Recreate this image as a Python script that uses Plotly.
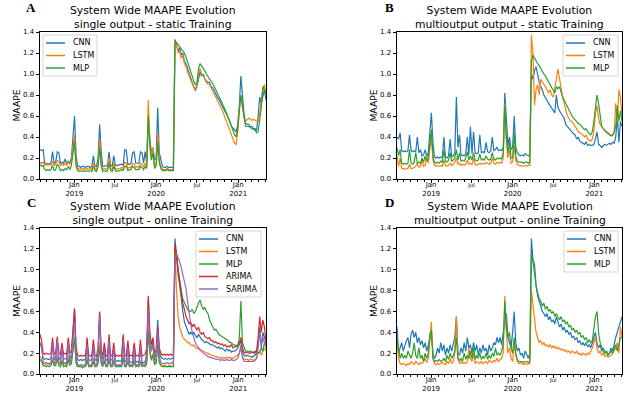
import pandas as pd
import plotly.graph_objects as go

# weekly samples, Aug 2018 .. May 2021
dates = pd.date_range("2018-08-01", periods=145, freq="7D")

cnn_a = [0.28, 0.27, 0.28, 0.15, 0.15, 0.14, 0.15, 0.15, 0.26, 0.15,
         0.16, 0.26, 0.25, 0.15, 0.16, 0.15, 0.19, 0.15, 0.17, 0.15,
         0.20, 0.45, 0.60, 0.22, 0.12, 0.12, 0.11, 0.12, 0.12, 0.11,
         0.12, 0.12, 0.11, 0.12, 0.22, 0.12, 0.12, 0.20, 0.52, 0.26,
         0.12, 0.12, 0.13, 0.12, 0.26, 0.13, 0.12, 0.22, 0.13, 0.13,
         0.13, 0.14, 0.14, 0.13, 0.28, 0.27, 0.14, 0.14, 0.15, 0.25,
         0.26, 0.15, 0.15, 0.15, 0.26, 0.25, 0.15, 0.26, 0.15, 0.60,
         0.38, 0.25, 0.30, 0.18, 0.20, 0.68, 0.25, 0.18, 0.12, 0.11,
         0.11, 0.12, 0.11, 0.11, 0.11, 0.11, 1.33, 1.27, 1.22, 1.25,
         1.18, 1.20, 1.12, 1.10, 1.05, 1.00, 0.97, 0.92, 0.88, 0.84,
         0.88, 0.97, 1.02, 0.98, 1.00, 0.95, 0.93, 0.92, 0.92, 0.88,
         0.87, 0.84, 0.80, 0.78, 0.76, 0.73, 0.70, 0.67, 0.63, 0.60,
         0.58, 0.55, 0.50, 0.48, 0.46, 0.45, 0.52, 0.70, 0.98, 0.75,
         0.62, 0.53, 0.52, 0.52, 0.50, 0.50, 0.48, 0.48, 0.46, 0.60,
         0.78, 0.72, 0.80, 0.85, 0.75]
lstm_a = [0.16, 0.15, 0.16, 0.13, 0.14, 0.13, 0.14, 0.13, 0.17, 0.13,
          0.14, 0.18, 0.16, 0.13, 0.14, 0.13, 0.15, 0.13, 0.16, 0.14,
          0.17, 0.30, 0.42, 0.15, 0.10, 0.09, 0.10, 0.09, 0.10, 0.09,
          0.10, 0.09, 0.10, 0.09, 0.15, 0.10, 0.09, 0.14, 0.38, 0.15,
          0.09, 0.10, 0.09, 0.10, 0.20, 0.10, 0.09, 0.15, 0.10, 0.09,
          0.10, 0.10, 0.11, 0.10, 0.16, 0.15, 0.10, 0.11, 0.11, 0.15,
          0.14, 0.11, 0.12, 0.11, 0.15, 0.14, 0.12, 0.15, 0.12, 0.75,
          0.35, 0.22, 0.30, 0.12, 0.15, 0.45, 0.18, 0.12, 0.09, 0.09,
          0.09, 0.10, 0.09, 0.09, 0.09, 0.09, 1.30, 1.28, 1.20, 1.22,
          1.15, 1.17, 1.10, 1.07, 1.02, 0.98, 0.94, 0.90, 0.87, 0.85,
          0.90, 1.00, 1.05, 1.00, 0.98, 0.96, 0.92, 0.90, 0.90, 0.87,
          0.85, 0.82, 0.78, 0.75, 0.72, 0.70, 0.66, 0.62, 0.58, 0.54,
          0.50, 0.45, 0.40, 0.36, 0.34, 0.33, 0.45, 0.65, 0.80, 0.68,
          0.58, 0.55, 0.57, 0.58, 0.57, 0.56, 0.57, 0.56, 0.55, 0.55,
          0.62, 0.75, 0.85, 0.90, 0.82]
mlp_a = [0.14, 0.12, 0.13, 0.09, 0.08, 0.09, 0.08, 0.09, 0.13, 0.08,
         0.09, 0.14, 0.12, 0.08, 0.09, 0.08, 0.10, 0.09, 0.12, 0.09,
         0.13, 0.25, 0.35, 0.12, 0.08, 0.07, 0.08, 0.07, 0.08, 0.07,
         0.08, 0.07, 0.08, 0.07, 0.12, 0.08, 0.07, 0.12, 0.30, 0.12,
         0.07, 0.08, 0.07, 0.08, 0.15, 0.08, 0.07, 0.12, 0.08, 0.07,
         0.08, 0.08, 0.09, 0.08, 0.12, 0.12, 0.08, 0.09, 0.09, 0.12,
         0.11, 0.09, 0.09, 0.09, 0.12, 0.11, 0.09, 0.12, 0.10, 0.60,
         0.30, 0.18, 0.25, 0.10, 0.12, 0.35, 0.15, 0.10, 0.08, 0.08,
         0.08, 0.09, 0.08, 0.08, 0.08, 0.08, 1.28, 1.30, 1.28, 1.26,
         1.25, 1.22, 1.20, 1.16, 1.12, 1.08, 1.03, 0.98, 0.93, 0.90,
         0.92, 1.05, 1.10, 1.08, 1.05, 1.03, 1.00, 0.98, 0.96, 0.93,
         0.91, 0.88, 0.85, 0.82, 0.79, 0.76, 0.72, 0.69, 0.66, 0.62,
         0.58, 0.53, 0.48, 0.44, 0.42, 0.40, 0.48, 0.65, 0.80, 0.70,
         0.58, 0.50, 0.50, 0.50, 0.49, 0.48, 0.47, 0.47, 0.44, 0.45,
         0.55, 0.68, 0.88, 0.85, 0.80]

cnn_b = [0.40, 0.38, 0.44, 0.27, 0.26, 0.27, 0.26, 0.27, 0.42, 0.27,
         0.26, 0.27, 0.26, 0.40, 0.25, 0.28, 0.22, 0.23, 0.28, 0.22,
         0.25, 0.45, 0.63, 0.35, 0.21, 0.20, 0.21, 0.20, 0.21, 0.20,
         0.40, 0.21, 0.20, 0.22, 0.38, 0.21, 0.22, 0.25, 0.78, 0.30,
         0.42, 0.22, 0.23, 0.22, 0.24, 0.40, 0.23, 0.50, 0.24, 0.45,
         0.25, 0.24, 0.25, 0.42, 0.25, 0.26, 0.25, 0.35, 0.26, 0.25,
         0.27, 0.40, 0.27, 0.28, 0.30, 0.27, 0.28, 0.27, 0.30, 0.82,
         0.50, 0.32, 0.40, 0.28, 0.30, 0.60, 0.30, 0.25, 0.23, 0.22,
         0.23, 0.22, 0.24, 0.23, 0.22, 0.23, 1.00, 0.95, 1.03, 1.07,
         0.98, 0.92, 0.88, 0.85, 0.80, 0.78, 0.75, 0.72, 0.70, 0.67,
         0.65, 0.63, 0.80, 0.68, 0.65, 0.62, 0.60, 0.58, 0.52, 0.50,
         0.48, 0.46, 0.45, 0.43, 0.42, 0.38, 0.40, 0.36, 0.35, 0.34,
         0.33, 0.35, 0.32, 0.33, 0.32, 0.32, 0.33, 0.38, 0.45, 0.33,
         0.32, 0.30, 0.32, 0.33, 0.32, 0.33, 0.34, 0.33, 0.35, 0.34,
         0.40, 0.60, 0.35, 0.55, 0.50]
lstm_b = [0.22, 0.12, 0.20, 0.10, 0.10, 0.09, 0.10, 0.10, 0.14, 0.10,
          0.10, 0.11, 0.12, 0.15, 0.11, 0.12, 0.18, 0.12, 0.13, 0.22,
          0.15, 0.28, 0.40, 0.18, 0.13, 0.12, 0.13, 0.12, 0.13, 0.12,
          0.18, 0.13, 0.12, 0.13, 0.15, 0.13, 0.14, 0.16, 0.20, 0.14,
          0.15, 0.13, 0.14, 0.13, 0.14, 0.18, 0.14, 0.15, 0.14, 0.20,
          0.14, 0.13, 0.14, 0.15, 0.14, 0.15, 0.14, 0.16, 0.15, 0.14,
          0.15, 0.20, 0.15, 0.14, 0.16, 0.15, 0.16, 0.15, 0.20, 0.72,
          0.35, 0.20, 0.28, 0.15, 0.16, 0.32, 0.18, 0.14, 0.13, 0.12,
          0.13, 0.12, 0.13, 0.12, 0.13, 0.13, 1.37, 1.20, 0.70, 0.85,
          0.90, 0.80, 0.95, 0.92, 0.90, 0.88, 0.85, 0.82, 0.85, 0.80,
          0.78, 0.85, 0.95, 1.05, 0.95, 0.85, 0.78, 0.72, 0.65, 0.60,
          0.58, 0.55, 0.55, 0.52, 0.50, 0.48, 0.45, 0.44, 0.43, 0.42,
          0.40, 0.42, 0.38, 0.37, 0.36, 0.38, 0.45, 0.62, 0.70, 0.58,
          0.52, 0.50, 0.48, 0.45, 0.44, 0.43, 0.42, 0.42, 0.41, 0.45,
          0.72, 0.55, 0.85, 0.78, 0.60]
mlp_b = [0.30, 0.22, 0.28, 0.15, 0.14, 0.15, 0.14, 0.15, 0.28, 0.15,
         0.14, 0.16, 0.25, 0.15, 0.16, 0.15, 0.20, 0.16, 0.22, 0.17,
         0.20, 0.35, 0.47, 0.22, 0.16, 0.15, 0.16, 0.15, 0.17, 0.16,
         0.28, 0.17, 0.16, 0.18, 0.25, 0.17, 0.18, 0.20, 0.28, 0.18,
         0.25, 0.17, 0.18, 0.17, 0.20, 0.26, 0.18, 0.22, 0.18, 0.25,
         0.18, 0.17, 0.18, 0.24, 0.18, 0.19, 0.18, 0.22, 0.19, 0.18,
         0.19, 0.25, 0.19, 0.18, 0.20, 0.19, 0.20, 0.19, 0.25, 0.70,
         0.40, 0.25, 0.35, 0.20, 0.20, 0.45, 0.22, 0.17, 0.16, 0.16,
         0.16, 0.15, 0.16, 0.16, 0.15, 0.16, 1.12, 1.18, 1.15, 1.12,
         1.10, 1.08, 1.05, 1.02, 1.00, 0.98, 0.95, 0.92, 0.90, 0.87,
         0.85, 0.82, 0.88, 0.86, 0.88, 0.82, 0.78, 0.75, 0.72, 0.68,
         0.65, 0.62, 0.60, 0.58, 0.56, 0.55, 0.53, 0.52, 0.50, 0.48,
         0.47, 0.48, 0.45, 0.43, 0.42, 0.45, 0.55, 0.68, 0.80, 0.72,
         0.58, 0.50, 0.48, 0.46, 0.45, 0.44, 0.42, 0.41, 0.42, 0.45,
         0.50, 0.70, 0.55, 0.65, 0.55]

cnn_c = [0.30, 0.25, 0.15, 0.14, 0.15, 0.14, 0.14, 0.15, 0.30, 0.14,
         0.15, 0.33, 0.15, 0.14, 0.25, 0.14, 0.15, 0.14, 0.30, 0.15,
         0.18, 0.40, 0.63, 0.20, 0.14, 0.13, 0.14, 0.13, 0.14, 0.13,
         0.30, 0.14, 0.13, 0.14, 0.28, 0.14, 0.13, 0.20, 0.58, 0.18,
         0.14, 0.25, 0.13, 0.14, 0.30, 0.13, 0.14, 0.25, 0.13, 0.12,
         0.13, 0.12, 0.13, 0.35, 0.12, 0.13, 0.28, 0.12, 0.11, 0.12,
         0.28, 0.11, 0.12, 0.11, 0.25, 0.10, 0.11, 0.12, 0.20, 0.72,
         0.35, 0.22, 0.30, 0.15, 0.20, 0.52, 0.22, 0.16, 0.15, 0.14,
         0.15, 0.14, 0.15, 0.14, 0.15, 0.15, 1.30, 1.10, 0.95, 0.85,
         0.70, 0.60, 0.50, 0.45, 0.42, 0.38, 0.40, 0.38, 0.40, 0.37,
         0.35, 0.38, 0.35, 0.33, 0.32, 0.30, 0.31, 0.30, 0.29, 0.28,
         0.28, 0.27, 0.26, 0.25, 0.26, 0.24, 0.25, 0.23, 0.22, 0.24,
         0.22, 0.23, 0.21, 0.22, 0.22, 0.23, 0.25, 0.28, 0.32, 0.22,
         0.18, 0.17, 0.18, 0.17, 0.17, 0.16, 0.17, 0.18, 0.20, 0.30,
         0.45, 0.25, 0.40, 0.35, 0.30]
lstm_c = [0.17, 0.15, 0.10, 0.10, 0.09, 0.10, 0.09, 0.10, 0.16, 0.09,
          0.10, 0.18, 0.10, 0.09, 0.14, 0.09, 0.10, 0.09, 0.17, 0.10,
          0.12, 0.25, 0.35, 0.12, 0.09, 0.08, 0.09, 0.08, 0.09, 0.08,
          0.16, 0.09, 0.08, 0.09, 0.15, 0.09, 0.08, 0.12, 0.30, 0.12,
          0.09, 0.14, 0.08, 0.09, 0.16, 0.08, 0.09, 0.14, 0.09, 0.08,
          0.09, 0.08, 0.09, 0.18, 0.08, 0.09, 0.15, 0.08, 0.09, 0.08,
          0.14, 0.08, 0.09, 0.08, 0.13, 0.08, 0.09, 0.08, 0.12, 0.45,
          0.22, 0.15, 0.20, 0.10, 0.12, 0.30, 0.12, 0.09, 0.08, 0.08,
          0.08, 0.07, 0.08, 0.08, 0.07, 0.08, 1.22, 0.80, 0.55, 0.45,
          0.40, 0.35, 0.33, 0.32, 0.30, 0.30, 0.28, 0.27, 0.28, 0.25,
          0.25, 0.24, 0.23, 0.22, 0.22, 0.21, 0.20, 0.20, 0.19, 0.18,
          0.18, 0.17, 0.17, 0.16, 0.16, 0.15, 0.16, 0.15, 0.15, 0.16,
          0.15, 0.16, 0.15, 0.15, 0.16, 0.17, 0.18, 0.20, 0.24, 0.17,
          0.14, 0.14, 0.14, 0.13, 0.14, 0.14, 0.13, 0.14, 0.15, 0.20,
          0.22, 0.18, 0.22, 0.25, 0.22]
mlp_c = [0.14, 0.12, 0.08, 0.08, 0.07, 0.08, 0.07, 0.08, 0.13, 0.08,
         0.08, 0.15, 0.08, 0.07, 0.12, 0.07, 0.08, 0.07, 0.14, 0.08,
         0.10, 0.22, 0.35, 0.10, 0.07, 0.07, 0.07, 0.06, 0.07, 0.07,
         0.13, 0.07, 0.07, 0.07, 0.12, 0.07, 0.07, 0.10, 0.25, 0.10,
         0.07, 0.12, 0.07, 0.07, 0.14, 0.07, 0.07, 0.12, 0.07, 0.07,
         0.07, 0.07, 0.07, 0.15, 0.07, 0.07, 0.12, 0.07, 0.08, 0.07,
         0.12, 0.07, 0.08, 0.07, 0.11, 0.07, 0.08, 0.07, 0.10, 0.40,
         0.20, 0.13, 0.18, 0.09, 0.10, 0.28, 0.11, 0.08, 0.07, 0.07,
         0.07, 0.07, 0.07, 0.07, 0.07, 0.07, 1.20, 1.15, 1.00, 0.88,
         0.80, 0.72, 0.68, 0.65, 0.62, 0.60, 0.60, 0.62, 0.58, 0.60,
         0.65, 0.68, 0.71, 0.65, 0.62, 0.64, 0.60, 0.58, 0.52, 0.48,
         0.45, 0.42, 0.43, 0.40, 0.38, 0.37, 0.36, 0.35, 0.34, 0.33,
         0.32, 0.30, 0.30, 0.28, 0.28, 0.27, 0.26, 0.35, 0.70, 0.30,
         0.25, 0.22, 0.22, 0.21, 0.22, 0.21, 0.21, 0.20, 0.22, 0.20,
         0.21, 0.25, 0.22, 0.30, 0.28]
arima_c = [0.38, 0.32, 0.20, 0.19, 0.20, 0.19, 0.19, 0.20, 0.35, 0.19,
           0.20, 0.36, 0.20, 0.19, 0.30, 0.19, 0.20, 0.19, 0.35, 0.20,
           0.22, 0.45, 0.62, 0.25, 0.18, 0.17, 0.18, 0.17, 0.18, 0.17,
           0.35, 0.18, 0.17, 0.18, 0.33, 0.18, 0.17, 0.25, 0.60, 0.22,
           0.18, 0.30, 0.17, 0.18, 0.38, 0.17, 0.18, 0.30, 0.17, 0.18,
           0.17, 0.18, 0.17, 0.38, 0.17, 0.18, 0.32, 0.17, 0.18, 0.17,
           0.30, 0.17, 0.18, 0.17, 0.33, 0.17, 0.18, 0.19, 0.25, 0.75,
           0.40, 0.28, 0.35, 0.20, 0.22, 0.45, 0.25, 0.20, 0.18, 0.19,
           0.18, 0.19, 0.18, 0.19, 0.18, 0.19, 1.25, 1.15, 1.00, 0.88,
           0.78, 0.68, 0.62, 0.55, 0.52, 0.48, 0.50, 0.45, 0.48, 0.44,
           0.42, 0.45, 0.40, 0.38, 0.40, 0.36, 0.35, 0.34, 0.35, 0.32,
           0.32, 0.30, 0.31, 0.29, 0.30, 0.28, 0.29, 0.27, 0.28, 0.26,
           0.27, 0.26, 0.28, 0.25, 0.26, 0.27, 0.28, 0.30, 0.35, 0.25,
           0.21, 0.20, 0.21, 0.20, 0.20, 0.21, 0.20, 0.22, 0.22, 0.35,
           0.55, 0.40, 0.52, 0.45, 0.30]
sarima_c = [0.30, 0.28, 0.11, 0.10, 0.11, 0.10, 0.10, 0.11, 0.30, 0.10,
            0.11, 0.32, 0.11, 0.10, 0.25, 0.10, 0.11, 0.10, 0.30, 0.11,
            0.15, 0.35, 0.50, 0.18, 0.09, 0.08, 0.09, 0.08, 0.09, 0.08,
            0.28, 0.09, 0.08, 0.09, 0.27, 0.09, 0.08, 0.18, 0.55, 0.15,
            0.09, 0.22, 0.08, 0.09, 0.33, 0.08, 0.09, 0.25, 0.08, 0.09,
            0.08, 0.09, 0.08, 0.32, 0.08, 0.09, 0.26, 0.08, 0.09, 0.08,
            0.25, 0.08, 0.09, 0.08, 0.27, 0.08, 0.09, 0.10, 0.18, 0.62,
            0.30, 0.22, 0.28, 0.12, 0.15, 0.40, 0.18, 0.11, 0.10, 0.10,
            0.10, 0.11, 0.10, 0.10, 0.11, 0.10, 1.10, 1.15, 1.12, 1.08,
            1.02, 0.95, 0.90, 0.82, 0.70, 0.58, 0.48, 0.40, 0.34, 0.30,
            0.27, 0.25, 0.24, 0.22, 0.20, 0.19, 0.18, 0.17, 0.16, 0.16,
            0.15, 0.15, 0.14, 0.14, 0.14, 0.13, 0.14, 0.13, 0.13, 0.14,
            0.13, 0.13, 0.14, 0.13, 0.13, 0.14, 0.15, 0.20, 0.28, 0.16,
            0.12, 0.12, 0.12, 0.12, 0.12, 0.12, 0.12, 0.13, 0.15, 0.25,
            0.40, 0.28, 0.35, 0.30, 0.25]

cnn_d = [0.45, 0.20, 0.25, 0.30, 0.22, 0.28, 0.32, 0.35, 0.25, 0.38,
         0.42, 0.35, 0.40, 0.30, 0.35, 0.28, 0.32, 0.25, 0.30, 0.22,
         0.28, 0.35, 0.40, 0.20, 0.15, 0.18, 0.25, 0.20, 0.30, 0.22,
         0.28, 0.18, 0.25, 0.20, 0.28, 0.22, 0.30, 0.35, 0.55, 0.20,
         0.18, 0.25, 0.20, 0.30, 0.22, 0.35, 0.25, 0.28, 0.20, 0.30,
         0.22, 0.28, 0.18, 0.25, 0.20, 0.28, 0.22, 0.25, 0.18, 0.28,
         0.22, 0.25, 0.30, 0.28, 0.35, 0.30, 0.35, 0.28, 0.40, 0.50,
         0.58, 0.35, 0.30, 0.25, 0.40, 0.60, 0.30, 0.22, 0.25, 0.18,
         0.20, 0.15, 0.22, 0.18, 0.15, 0.20, 1.30, 1.10, 1.05, 0.85,
         0.75, 0.70, 0.65, 0.60, 0.58, 0.55, 0.58, 0.52, 0.55, 0.50,
         0.52, 0.48, 0.55, 0.50, 0.45, 0.48, 0.42, 0.45, 0.40, 0.42,
         0.38, 0.40, 0.35, 0.36, 0.33, 0.35, 0.30, 0.32, 0.28, 0.30,
         0.27, 0.30, 0.26, 0.28, 0.25, 0.30, 0.35, 0.40, 0.30, 0.25,
         0.28, 0.22, 0.25, 0.20, 0.22, 0.18, 0.20, 0.25, 0.22, 0.30,
         0.35, 0.40, 0.45, 0.50, 0.55]
lstm_d = [0.30, 0.15, 0.10, 0.09, 0.10, 0.09, 0.08, 0.10, 0.09, 0.12,
          0.10, 0.09, 0.12, 0.10, 0.09, 0.11, 0.10, 0.12, 0.15, 0.11,
          0.15, 0.30, 0.50, 0.15, 0.10, 0.09, 0.10, 0.09, 0.10, 0.11,
          0.10, 0.09, 0.12, 0.10, 0.15, 0.10, 0.12, 0.20, 0.55, 0.15,
          0.10, 0.12, 0.10, 0.11, 0.10, 0.12, 0.25, 0.15, 0.12, 0.20,
          0.10, 0.12, 0.11, 0.10, 0.12, 0.10, 0.11, 0.12, 0.10, 0.13,
          0.12, 0.11, 0.13, 0.12, 0.15, 0.12, 0.14, 0.15, 0.20, 0.75,
          0.40, 0.20, 0.25, 0.15, 0.12, 0.30, 0.18, 0.12, 0.10, 0.11,
          0.10, 0.09, 0.10, 0.09, 0.10, 0.10, 0.80, 0.65, 0.50, 0.40,
          0.35, 0.30, 0.32, 0.28, 0.30, 0.27, 0.28, 0.26, 0.28, 0.25,
          0.27, 0.25, 0.26, 0.24, 0.25, 0.23, 0.24, 0.22, 0.23, 0.21,
          0.22, 0.20, 0.22, 0.21, 0.20, 0.22, 0.19, 0.20, 0.18, 0.20,
          0.19, 0.18, 0.20, 0.19, 0.22, 0.25, 0.30, 0.35, 0.25, 0.20,
          0.22, 0.18, 0.20, 0.17, 0.18, 0.16, 0.17, 0.18, 0.20, 0.22,
          0.25, 0.30, 0.20, 0.45, 0.35]
mlp_d = [0.35, 0.25, 0.15, 0.20, 0.15, 0.18, 0.15, 0.22, 0.18, 0.15,
         0.20, 0.30, 0.18, 0.15, 0.25, 0.15, 0.18, 0.12, 0.20, 0.15,
         0.20, 0.38, 0.42, 0.15, 0.12, 0.13, 0.12, 0.14, 0.12, 0.13,
         0.15, 0.12, 0.18, 0.14, 0.20, 0.15, 0.18, 0.22, 0.35, 0.15,
         0.13, 0.15, 0.12, 0.20, 0.14, 0.18, 0.15, 0.22, 0.15, 0.25,
         0.14, 0.18, 0.15, 0.20, 0.14, 0.17, 0.15, 0.20, 0.14, 0.18,
         0.15, 0.20, 0.17, 0.25, 0.18, 0.20, 0.18, 0.22, 0.30, 0.70,
         0.45, 0.35, 0.40, 0.25, 0.20, 0.35, 0.20, 0.14, 0.12, 0.12,
         0.12, 0.11, 0.12, 0.12, 0.11, 0.12, 1.15, 1.08, 0.95, 0.85,
         0.78, 0.72, 0.70, 0.65, 0.68, 0.62, 0.65, 0.60, 0.62, 0.58,
         0.60, 0.55, 0.58, 0.55, 0.52, 0.55, 0.50, 0.52, 0.48, 0.50,
         0.45, 0.47, 0.42, 0.44, 0.40, 0.42, 0.38, 0.40, 0.35, 0.37,
         0.33, 0.35, 0.30, 0.33, 0.30, 0.32, 0.45, 0.55, 0.60, 0.40,
         0.30, 0.25, 0.22, 0.20, 0.22, 0.18, 0.20, 0.22, 0.20, 0.25,
         0.28, 0.22, 0.30, 0.35, 0.35]

colors = {"CNN": "#1f77b4", "LSTM": "#ff7f0e", "MLP": "#2ca02c",
          "ARIMA": "#d62728", "SARIMA": "#9467bd"}

panels = [
    ("A", "single output - static Training",
     {"CNN": cnn_a, "LSTM": lstm_a, "MLP": mlp_a}),
    ("B", "multioutput output - static Training",
     {"CNN": cnn_b, "LSTM": lstm_b, "MLP": mlp_b}),
    ("C", "single output - online Training",
     {"CNN": cnn_c, "LSTM": lstm_c, "MLP": mlp_c, "ARIMA": arima_c, "SARIMA": sarima_c}),
    ("D", "multioutput output - online Training",
     {"CNN": cnn_d, "LSTM": lstm_d, "MLP": mlp_d}),
]

W, H = 640, 410


def px(x, y):
    return x / W, 1 - y / H


x_doms = [[px(40, 0)[0], px(266, 0)[0]], [px(397, 0)[0], px(622, 0)[0]]]
y_doms = [[px(0, 179)[1], px(0, 32)[1]], [px(0, 374)[1], px(0, 228)[1]]]
letter_pos = [(31, 7), (389, 7), (31, 202), (389, 202)]

# legend frames (left, top, width) in pixels, matplotlib-like compact legends
legend_frames = [(43, 35, 54), (563, 35, 55), (196, 231, 65), (564, 231, 54)]
ROW = 12.5

jan_jul = ["2019-01-01", "2019-07-01", "2020-01-01", "2020-07-01", "2021-01-01"]
jul = "<span style='font-size:5.5px'>Jul</span>"
jan_jul_text = ["Jan<br>2019", jul, "Jan<br>2020", jul, "Jan<br>2021"]

FONT = "DejaVu Sans"
fig = go.Figure()
layout = dict(width=W, height=H, margin=dict(l=0, r=0, t=0, b=0, autoexpand=False),
              paper_bgcolor="white", plot_bgcolor="white", showlegend=False,
              font=dict(family=FONT, size=7, color="black"),
              annotations=[], shapes=[])

for k, (letter, subtitle, series) in enumerate(panels):
    row, col = divmod(k, 2)
    sfx = "" if k == 0 else str(k + 1)
    for name, vals in series.items():
        fig.add_trace(go.Scatter(
            x=dates, y=vals, mode="lines", name=name,
            line=dict(color=colors[name], width=1.2),
            xaxis="x" + sfx, yaxis="y" + sfx))

    layout["xaxis" + sfx] = dict(
        domain=x_doms[col], anchor="y" + sfx, type="date", automargin=False,
        range=[dates[0], dates[-1]],
        tickvals=jan_jul, ticktext=jan_jul_text, ticklabelstandoff=-5,
        ticks="outside", ticklen=3.5, tickwidth=0.8, tickcolor="black",
        showline=True, linecolor="black", linewidth=0.8, mirror=True,
        showgrid=False, zeroline=False, tickfont=dict(size=7),
        minor=dict(dtick="M1", ticks="outside", ticklen=2, tickwidth=0.6,
                   tickcolor="black", showgrid=False))
    layout["yaxis" + sfx] = dict(
        domain=y_doms[row], anchor="x" + sfx, range=[0, 1.4], automargin=False,
        tickvals=[0, 0.2, 0.4, 0.6, 0.8, 1.0, 1.2, 1.4], tickformat=".1f",
        ticks="outside", ticklen=3.5, tickwidth=0.8, tickcolor="black",
        showline=True, linecolor="black", linewidth=0.8, mirror=True,
        showgrid=False, zeroline=False, tickfont=dict(size=7),
        title=dict(text="MAAPE", font=dict(size=9.2), standoff=0))

    # compact legend box
    left, top, width = legend_frames[k]
    n = len(series)
    x0, y0 = px(left, top)
    x1, y1 = px(left + width, top + 16 + ROW * (n - 1))
    layout["shapes"].append(dict(
        type="rect", xref="paper", yref="paper", x0=x0, y0=y1, x1=x1, y1=y0,
        line=dict(color="#cccccc", width=0.8), fillcolor="rgba(255,255,255,0.8)"))
    for j, name in enumerate(series):
        yc = top + 8 + ROW * j
        lx0, ly = px(left + 3, yc)
        lx1, _ = px(left + 22, yc)
        layout["shapes"].append(dict(
            type="line", xref="paper", yref="paper", x0=lx0, x1=lx1, y0=ly, y1=ly,
            line=dict(color=colors[name], width=1.5)))
        tx, _ = px(left + 28, yc)
        layout["annotations"].append(dict(
            text=name, x=tx, y=ly, xref="paper", yref="paper",
            xanchor="left", yanchor="middle", showarrow=False,
            font=dict(size=8, family=FONT)))

    layout["annotations"].append(dict(
        text="System Wide MAAPE Evolution<br>" + subtitle,
        x=sum(x_doms[col]) / 2, y=y_doms[row][1], xref="paper", yref="paper",
        xanchor="center", yanchor="bottom", yshift=-1, showarrow=False,
        font=dict(size=10.8, family=FONT)))
    lx, ly = px(*letter_pos[k])
    layout["annotations"].append(dict(
        text="<b>" + letter + "</b>", x=lx, y=ly,
        xref="paper", yref="paper", xanchor="center", yanchor="middle",
        showarrow=False, font=dict(size=13, family="Liberation Serif")))

fig.update_layout(**layout)
# drop the page's default body margin so the figure sits at the window corner
fig.write_html("out.html", config={"displayModeBar": False},
               post_script="document.body.style.margin = '0';")
